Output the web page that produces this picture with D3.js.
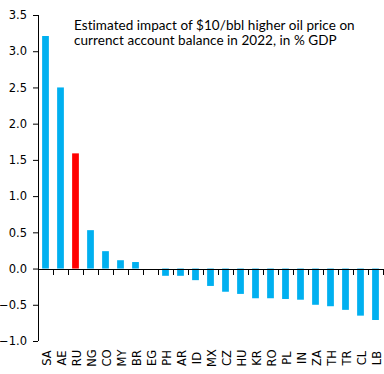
<html lang="en">
    <head>
        <meta charset="utf-8">
        <style>
            body { margin: 0; background: white; }
            svg { background: white; }
            .tick-label { font-family: "DejaVu Sans", Verdana, sans-serif; font-size: 11.5px; fill: #000; }
            .note { font-family: Lato, "Open Sans", sans-serif; font-size: 13.5px; letter-spacing: 0.05px; fill: #000; }
        </style>
    </head>
    <body>
        <div id="chart"></div>
        <script src="https://d3js.org/d3.v7.min.js"></script>
        <script>
            // country codes, left to right
            var countries = ["SA", "AE", "RU", "NG", "CO", "MY", "BR", "EG", "PH", "AR", "ID", "MX",
                             "CZ", "HU", "KR", "RO", "PL", "IN", "ZA", "TH", "TR", "CL", "LB"];
            // impact, % GDP
            var impact = [3.21, 2.50, 1.59, 0.53, 0.24, 0.115, 0.09, 0.0, -0.10, -0.10, -0.16, -0.24,
                          -0.32, -0.35, -0.41, -0.41, -0.42, -0.43, -0.50, -0.52, -0.57, -0.65, -0.71];
            var highlight = "RU";
            var yTicks = [-1.0, -0.5, 0.0, 0.5, 1.0, 1.5, 2.0, 2.5, 3.0, 3.5];
            var noteLines = ["Estimated impact of $10/bbl higher oil price on",
                             "currenct account balance in 2022, in % GDP"];

            var data = countries.map(function(c, i) { return {code: c, value: impact[i]}; });

            var width = 384, height = 374;
            var margin = {top: 15, left: 38, right: 1, bottom: 33};

            var svg = d3.select("#chart")
                .append("svg")
                .attr("width", width)
                .attr("height", height);

            var x = d3.scaleBand()
                .domain(countries)
                .range([margin.left, width - margin.right])
                .paddingInner(0.55)
                .paddingOuter(0.275);

            var y = d3.scaleLinear()
                .domain([-1.0, 3.5])
                .range([height - margin.bottom, margin.top]);

            // bars
            svg.selectAll(".bar")
                .data(data)
                .enter().append("rect")
                .attr("class", "bar")
                .attr("x", function(d) { return x(d.code); })
                .attr("width", x.bandwidth())
                .attr("y", function(d) { return y(Math.max(0, d.value)); })
                .attr("height", function(d) { return Math.abs(y(d.value) - y(0)); })
                .style("fill", function(d) { return d.code == highlight ? "#ff0000" : "#00b0f0"; });

            // y axis
            var yAxis = svg.append("g")
                .attr("transform", "translate(" + margin.left + ",0)")
                .call(d3.axisLeft(y)
                    .tickValues(yTicks)
                    .tickFormat(d3.format(".1f"))
                    .tickSize(5)
                    .tickPadding(6));
            yAxis.select(".domain").attr("stroke", "#000").attr("d", "M0.5," + y(3.5) + "V" + y(-1.0));
            yAxis.selectAll("text").attr("class", "tick-label").attr("fill", null);

            // x axis at zero, ticks between categories
            var edges = countries.map(function(c) { return x(c) - x.step() * x.paddingInner() / 2; });
            edges.push(width - margin.right);
            var xAxis = svg.append("g");
            xAxis.append("line")
                .attr("x1", margin.left).attr("x2", width - margin.right)
                .attr("y1", Math.round(y(0)) + 0.5).attr("y2", Math.round(y(0)) + 0.5)
                .attr("stroke", "#000");
            xAxis.selectAll(".xtick")
                .data(edges)
                .enter().append("line")
                .attr("x1", function(d) { return Math.round(d) + 0.5; })
                .attr("x2", function(d) { return Math.round(d) + 0.5; })
                .attr("y1", Math.round(y(0)))
                .attr("y2", Math.round(y(0)) + 6)
                .attr("stroke", "#000");

            // category labels, rotated
            svg.selectAll(".xlabel")
                .data(countries)
                .enter().append("text")
                .attr("class", "tick-label")
                .attr("text-anchor", "middle")
                .attr("dominant-baseline", "central")
                .attr("transform", function(d) {
                    return "translate(" + (x(d) + x.bandwidth() / 2 + 1) + ",358) rotate(-90)";
                })
                .text(function(d) { return d; });

            // note, one text element per line
            svg.selectAll(".note")
                .data(noteLines)
                .enter().append("text")
                .attr("class", "note")
                .attr("x", 74)
                .attr("y", function(d, i) { return 30 + i * 15; })
                .text(function(d) { return d; });
        </script>
    </body>
</html>
